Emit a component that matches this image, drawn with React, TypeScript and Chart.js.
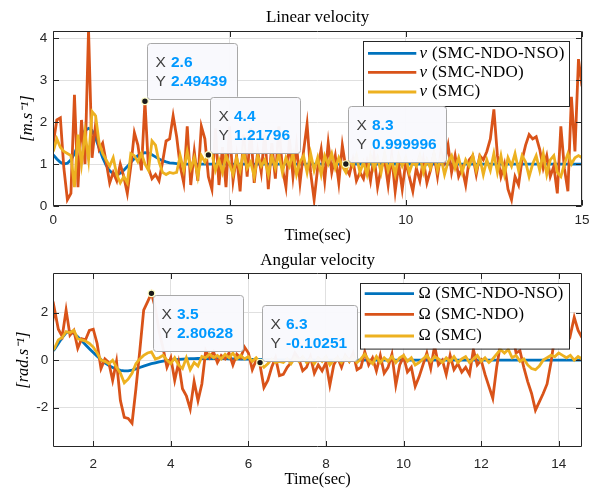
import React, { useEffect, useRef } from "react";
import { Chart, registerables } from "chart.js";

Chart.register(...registerables);

// ---------- data ----------
const DT = 0.1;
const TOP_T0 = 0; // t = 0.0 .. 15.0
const BOT_T0 = 0.9; // t = 0.9 .. 14.6

const V_NSO = [
  1.22, 1.12, 1.04, 1.0, 1.02, 1.1, 1.25, 1.45, 1.65, 1.8,
  1.85, 1.8, 1.62, 1.38, 1.15, 0.97, 0.84, 0.77, 0.75, 0.78,
  0.85, 0.94, 1.04, 1.13, 1.2, 1.25, 1.27, 1.26, 1.22, 1.17,
  1.12, 1.08, 1.05, 1.03, 1.02, 1.01, 1.0, 1.0, 1.0, 1.0,
  1, 1, 1, 1, 1, 1, 1, 1, 1, 1,
  1, 1, 1, 1, 1, 1, 1, 1, 1, 1,
  1, 1, 1, 1, 1, 1, 1, 1, 1, 1,
  1, 1, 1, 1, 1, 1, 1, 1, 1, 1,
  1, 1, 1, 0.999996, 1, 1, 1, 1, 1, 1,
  1, 1, 1, 1, 1, 1, 1, 1, 1, 1,
  1, 1, 1, 1, 1, 1, 1, 1, 1, 1,
  1, 1, 1, 1, 1, 1, 1, 1, 1, 1,
  1, 1, 1, 1, 1, 1, 1, 1, 1, 1,
  1, 1, 1, 1, 1, 1, 1, 1, 1, 1,
  1, 1, 1, 1, 1, 1, 1, 1, 1, 1,
  1,
];

const V_NDO = [
  1.5, 2.05, 2.1, 0.9, 0.15, 0.3, 2.65, 0.45, 2.05, 1.0,
  4.2, 1.15, 1.95, 1.35, 1.5, 1.05, 0.55, 0.8, 0.6, 1.0,
  0.7, 0.3, 0.95, 1.75, 1.45, 0.85, 2.49439, 0.9, 0.65, 0.75,
  0.6, 1.05, 1.55, 1.6, 2.15, 1.65, 0.95, 0.55, 1.9, 0.5,
  1.3, 0.6, 1.9, 1.6, 0.7, 0.4, 1.85, 0.5, 1.4, 0.45,
  1.9, 0.6, 1.2, 0.35, 1.7, 0.7, 1.85, 0.55, 1.3, 0.8,
  1.75, 0.4, 1.5, 0.65, 1.9, 0.9, 0.45, 1.6, 0.7, 1.45,
  0.55, 1.3, 1.95, 0.8, 0.15, 0.9, 1.35, 0.6, 1.5, 0.8,
  1.2, 0.55, 1.45, 0.9, 0.75, 1.1, 0.6, 0.8, 0.65, 1.05,
  0.6, 1.2, 0.45, 0.9, 1.1, 0.5, 1.2, 0.35, 1.0, 0.4,
  1.05, 0.7, 0.35, 0.9, 0.6, 1.1, 0.55, 0.85, 1.25, 0.7,
  1.3, 1.05, 1.45, 0.8, 1.2, 0.7, 0.9, 0.5, 1.1, 1.2,
  0.75, 1.2, 1.1, 1.3, 1.6, 2.3, 1.2, 0.7, 1.0, 0.4,
  0.15, 0.7, 0.5, 1.1, 1.45, 1.7, 1.6, 1.65, 1.35, 0.9,
  1.2, 0.7, 0.95, 0.3, 1.9, 0.9, 0.35, 2.6, 1.3, 3.5,
  2.85,
];

const V_SMC = [
  1.3, 1.6, 1.4, 1.3, 1.25, 1.2, 0.45, 1.7, 1.0, 1.75,
  1.1, 2.25, 2.15, 1.5, 1.25, 1.1, 0.95, 1.15, 0.75, 0.55,
  0.7, 0.55, 1.25, 1.2, 1.05, 1.25, 1.0, 0.85, 1.55, 1.45,
  1.05, 0.8, 0.75, 0.8, 0.78, 0.8, 1.2, 0.85, 1.3, 0.9,
  1.15, 0.7, 1.2, 1.05, 1.21796, 1.25, 0.85, 1.1, 0.8, 1.2,
  1.0, 0.75, 1.15, 0.85, 1.3, 0.9, 1.05, 0.7, 1.2, 0.95,
  1.1, 0.75, 1.2, 0.9, 1.25, 0.8, 1.15, 0.95, 1.25, 0.75,
  1.05, 1.2, 0.8, 1.25, 0.85, 1.15, 0.75, 1.2, 1.0, 1.25,
  0.9, 1.15, 0.95, 0.8, 1.1, 0.95, 1.2, 0.8, 1.05, 0.75,
  1.2, 0.9, 1.15, 0.8, 1.25, 0.85, 1.1, 0.75, 1.2, 0.95,
  1.15, 0.8, 1.05, 0.95, 1.2, 0.8, 1.1, 0.9, 1.25, 0.85,
  1.15, 0.75, 1.05, 1.2, 0.9, 1.15, 0.8, 1.1, 0.95, 1.2,
  0.85, 1.15, 0.75, 1.1, 0.85, 1.25, 0.8, 1.2, 0.75, 1.15,
  0.95, 1.25, 0.85, 1.2, 1.05, 0.7, 1.0, 1.2, 0.85, 1.25,
  0.75, 1.1, 1.2, 0.8, 0.7, 1.0, 1.25, 1.0, 1.15, 1.2,
  1.15,
];

const W_NSO = [
  0.3, 0.45, 0.7, 0.95, 1.15, 1.2, 1.12, 0.98, 0.82, 0.65,
  0.48, 0.32, 0.16, 0.02, -0.11, -0.22, -0.31, -0.38, -0.43, -0.45,
  -0.45, -0.42, -0.37, -0.31, -0.25, -0.2, -0.15, -0.11, -0.07, -0.04,
  -0.02, 0.0, 0.02, 0.03, 0.04, 0.05, 0.06, 0.06, 0.07, 0.07,
  0.07, 0.07, 0.07, 0.06, 0.06, 0.06, 0.05, 0.05, 0.05, 0.04,
  0.04, 0.04, 0.03, 0.03, 0.03, 0.02, 0.02, 0.02, 0.01, 0.01,
  0.01, 0.01, 0, 0, 0, 0, 0, 0, 0, 0,
  0, 0, 0, 0, 0, 0, 0, 0, 0, 0,
  0, 0, 0, 0, 0, 0, 0, 0, 0, 0,
  0, 0, 0, 0, 0, 0, 0, 0, 0, 0,
  0, 0, 0, 0, 0, 0, 0, 0, 0, 0,
  0, 0, 0, 0, 0, 0, 0, 0, 0, 0,
  0, 0, 0, 0, 0, 0, 0, 0, 0, 0,
  0, 0, 0, 0, 0, 0, 0, 0,
];

const W_NDO = [
  1.0, 2.15, 1.3, 1.0, 2.1, 1.05, 1.25, 0.5, 0.9, 0.85,
  1.25, 1.3, 0.7, -0.35, 0.05, -0.1, -0.85, -0.05, -1.7, -2.4,
  -2.45, -2.65, -1.2, 0.4, 2.1, 2.45, 2.80628, 2.2, 1.2, 0.5,
  -0.3, 0.1, -0.85, -0.1, -1.2, -1.5, -2.05, -0.9, -1.7, -1.0,
  0.4, 0.1, 0.35, -0.1, 0.2, 0.05, 0.3, -0.2, 0.25, 0.1,
  0.55, 0.3, -0.4, 0.0, -0.2, -1.15, -0.85, -0.3, 0.1, -0.65,
  -0.6, -0.3, -0.1, 0.3, 0.05, -0.45, -0.3, 0.15, -0.55, -0.2,
  -0.45, -0.1, -1.05, -0.2, 0.1, -0.3, 0.2, -0.05, 0.3, -0.4,
  -0.3, 0.35, -0.2, 0.1, -0.45, 0.2, -0.55, -0.3, 0.25, -1.05,
  -0.2, 0.15, -0.5, -0.3, -1.1, -0.7, -0.2, 0.3, -0.35, 0.6,
  -0.2, 0.0, -0.6, 0.2, -0.4, -0.15, -0.5, -0.3, -0.6, 0.45,
  -0.2, 0.0, -0.6, -1.1, -1.6, -0.3, 0.7, 1.1, 0.6, 1.2,
  0.3, 0.4, -0.3, -0.9, -1.4, -2.1, -1.75, -1.4, -1.0, -0.1,
  1.0, 1.3, 1.75, 1.5, 1.05, 1.8, 1.25, 0.95,
];

const W_SMC = [
  0.3, 0.5, 0.85, 0.95, 1.2, 1.15, 1.25, 0.9, 0.85, 0.8,
  0.7, 0.55, 0.3, 0.0, -0.05, -0.15, 0.0, -0.3, -0.55, -0.95,
  -0.8, -0.55, -0.15, 0.05, 0.2, 0.3, 0.35, 0.05, 0.1, 0.2,
  0.0, -0.15, 0.1, -0.2, -0.35, 0.1, -0.4, -0.1, -0.25, 0.15,
  0.1, 0.25, 0.1, 0.2, 0.05, 0.25, 0.1, 0.3, 0.05, 0.2,
  0.05, 0.15, -0.05, 0.1, -0.10251, -0.3, -0.15, 0.05, -0.1, -0.05,
  -0.1, 0.05, -0.15, 0.1, -0.05, 0.15, -0.1, 0.05, -0.15, 0.1,
  -0.05, 0.15, -0.2, 0.0, 0.1, -0.1, 0.15, -0.05, 0.1, -0.1,
  0.05, 0.25, 0.0, -0.15, 0.15, -0.1, 0.1, -0.05, 0.15, -0.1,
  0.1, 0.2, -0.05, 0.1, -0.2, -0.1, 0.05, 0.2, -0.05, 0.15,
  0.05, -0.1, 0.1, -0.05, 0.15, -0.1, 0.05, 0.15, -0.1, 0.05,
  0.2, -0.05, 0.1, -0.1, 0.05, 0.25, 0.45, 0.3, 0.45, 0.1,
  0.2, -0.05, 0.05, -0.2, -0.35, -0.4, -0.25, 0.0, 0.1, 0.2,
  0.15, 0.3, 0.2, 0.1, 0.2, 0.0, 0.15, 0.05,
];

const SERIES_LABELS = ["(SMC-NDO-NSO)", "(SMC-NDO)", "(SMC)"];
const COLORS = ["#0072BD", "#D95319", "#EDB120"];

const TOP_X_TICKS = [0, 5, 10, 15];
const TOP_Y_TICKS = [0, 1, 2, 3, 4];
const BOT_X_TICKS = [2, 4, 6, 8, 10, 12, 14];
const BOT_Y_TICKS = [-2, 0, 2];

// ---------- styling ----------
const SERIF = '"Liberation Serif", "Times New Roman", serif';
const SANS = '"Liberation Sans", Arial, Helvetica, sans-serif';
const AXIS_COLOR = "#262626";
const GRID_COLOR = "#e0e0e0";
const LINE_W = 2.8;

function points(t0: number, ys: number[]) {
  return ys.map((y, i) => ({ x: Math.round((t0 + i * DT) * 100) / 100, y }));
}

function makeDecor(p: any) {
  return {
    id: "decor_" + p.key,
    afterDatasetsDraw(chart: any) {
      const { ctx, chartArea: a, scales } = chart;
      const l = Math.round(a.left) + 0.5;
      const r = Math.round(a.right) - 0.5;
      const t = Math.round(a.top) + 0.5;
      const b = Math.round(a.bottom) - 0.5;
      ctx.save();
      ctx.strokeStyle = AXIS_COLOR;
      ctx.lineWidth = 1;
      ctx.beginPath();
      ctx.rect(l, t, r - l, b - t);
      const TL = 5.5;
      for (const v of p.xTicks) {
        const px = Math.round(scales.x.getPixelForValue(v)) + 0.5;
        ctx.moveTo(px, b);
        ctx.lineTo(px, b - TL);
        ctx.moveTo(px, t);
        ctx.lineTo(px, t + TL);
      }
      for (const v of p.yTicks) {
        const py = Math.round(scales.y.getPixelForValue(v)) + 0.5;
        ctx.moveTo(l, py);
        ctx.lineTo(l + TL, py);
        ctx.moveTo(r, py);
        ctx.lineTo(r - TL, py);
      }
      ctx.stroke();
      ctx.restore();
    },
    afterDraw(chart: any) {
      const { ctx, chartArea: a, scales } = chart;
      ctx.save();
      // legend
      const lg = p.legend;
      const x0 = Math.round(a.right - lg.rightInset - lg.w);
      const y0 = Math.round(a.top + lg.topInset);
      ctx.fillStyle = "#ffffff";
      ctx.fillRect(x0, y0, lg.w, lg.h);
      ctx.strokeStyle = AXIS_COLOR;
      ctx.lineWidth = 1;
      ctx.strokeRect(x0 + 0.5, y0 + 0.5, lg.w, lg.h);
      chart.data.datasets.forEach((ds: any, i: number) => {
        const y = y0 + lg.rows[i];
        ctx.strokeStyle = ds.borderColor;
        ctx.lineWidth = LINE_W;
        ctx.beginPath();
        ctx.moveTo(x0 + lg.lx0, y);
        ctx.lineTo(x0 + lg.lx1, y);
        ctx.stroke();
        ctx.fillStyle = "#000";
        ctx.textBaseline = "middle";
        ctx.textAlign = "left";
        (ctx as any).letterSpacing = lg.spacing + "px";
        ctx.font = (lg.symItalic ? "italic " : "") + lg.size + "px " + SERIF;
        ctx.fillText(lg.sym, x0 + lg.tx, y);
        const sw = ctx.measureText(lg.sym).width;
        ctx.font = lg.size + "px " + SERIF;
        ctx.fillText(" " + SERIES_LABELS[i], x0 + lg.tx + sw, y);
        (ctx as any).letterSpacing = "0px";
      });
      // data tips
      for (const tip of p.tips) {
        const idx = Math.round((tip.t - tip.t0) / DT);
        const yv = tip.data[idx];
        const px = scales.x.getPixelForValue(tip.t);
        const py = scales.y.getPixelForValue(yv);
        const xs = String(tip.t);
        const ys = String(yv);
        ctx.font = "bold 15.5px " + SANS;
        const vw = Math.max(ctx.measureText(xs).width, ctx.measureText(ys).width);
        const bw = Math.round(24 + vw + 9.5);
        const bh = 56;
        const bx = Math.round(px + 2);
        const by = Math.round(tip.place === "above" ? py - 2 - bh : py + 2);
        ctx.beginPath();
        ctx.roundRect(bx + 0.5, by + 0.5, bw, bh, 3);
        ctx.fillStyle = "rgba(249,249,253,0.97)";
        ctx.fill();
        ctx.strokeStyle = "#a8a8a8";
        ctx.lineWidth = 1;
        ctx.stroke();
        ctx.textBaseline = "middle";
        ctx.textAlign = "left";
        ctx.font = "15.5px " + SANS;
        ctx.fillStyle = "#404040";
        ctx.fillText("X", bx + 8.5, by + 19.5);
        ctx.fillText("Y", bx + 8.5, by + 39);
        ctx.font = "bold 15.5px " + SANS;
        ctx.fillStyle = "#0099ff";
        ctx.fillText(xs, bx + 24, by + 19.5);
        ctx.fillText(ys, bx + 24, by + 39);
        ctx.beginPath();
        ctx.arc(px, py, 3.3, 0, Math.PI * 2);
        ctx.fillStyle = "#1a1a1a";
        ctx.fill();
        ctx.strokeStyle = "#ffffc8";
        ctx.lineWidth = 1.2;
        ctx.stroke();
      }
      ctx.restore();
    },
  };
}

function makeConfig(p: any): any {
  const datasets = p.series.map((s: number[], i: number) => ({
    label: p.sym + " " + SERIES_LABELS[i],
    data: points(p.t0, s),
    borderColor: COLORS[i],
    backgroundColor: COLORS[i],
    borderWidth: LINE_W,
    pointRadius: 0,
    tension: 0,
    fill: false,
    order: 3 - i,
  }));
  return {
    type: "line",
    data: { datasets },
    options: {
      responsive: false,
      animation: false,
      events: [],
      layout: { padding: { left: 0, right: 9, top: 0, bottom: 0 } },
      plugins: {
        legend: { display: false },
        tooltip: { enabled: false },
        title: {
          display: true,
          fullSize: false,
          text: p.title,
          color: "#000",
          font: { family: SERIF, size: 17, weight: "normal", lineHeight: 1.2 },
          padding: { top: p.titlePadT, bottom: p.titlePadB },
        },
      },
      scales: {
        x: {
          type: "linear",
          min: p.xMin,
          max: p.xMax,
          afterBuildTicks: (s: any) => {
            s.ticks = p.xTicks.map((v: number) => ({ value: v }));
          },
          afterFit: (s: any) => {
            s.height = p.xAxisH;
            s.paddingLeft = 0;
            s.paddingRight = 0;
          },
          grid: { color: GRID_COLOR, lineWidth: 1, drawTicks: false },
          border: { display: false },
          ticks: {
            font: { family: SANS, size: 13.5 },
            color: AXIS_COLOR,
            padding: p.xTickPad,
            maxRotation: 0,
            autoSkip: false,
          },
          title: {
            display: true,
            text: "Time(sec)",
            color: "#000",
            font: { family: SERIF, size: 16.5, lineHeight: 1 },
            padding: { top: 0, bottom: p.xTitlePadB },
          },
        },
        y: {
          type: "linear",
          min: p.yMin,
          max: p.yMax,
          afterBuildTicks: (s: any) => {
            s.ticks = p.yTicks.map((v: number) => ({ value: v }));
          },
          afterFit: (s: any) => {
            s.width = 53.3;
            s.paddingTop = 0;
            s.paddingBottom = 0;
          },
          grid: { color: GRID_COLOR, lineWidth: 1, drawTicks: false },
          border: { display: false },
          ticks: {
            font: { family: SANS, size: 13.5 },
            color: AXIS_COLOR,
            padding: p.yTickPad,
            autoSkip: false,
          },
          title: {
            display: true,
            text: p.yTitle,
            color: "#000",
            font: { family: SERIF, size: 16.5, style: "italic", lineHeight: 1 },
            padding: { top: p.yTitlePadT, bottom: 0 },
          },
        },
      },
    },
    plugins: [makeDecor(p)],
  };
}

const TOP_PANEL = {
  key: "top",
  title: "Linear velocity",
  yTitle: "[m.s\u207B\u00B9]",
  sym: "v",
  t0: TOP_T0,
  series: [V_NSO, V_NDO, V_SMC],
  xMin: 0,
  xMax: 15,
  yMin: 0,
  yMax: 4.17,
  xTicks: TOP_X_TICKS,
  yTicks: TOP_Y_TICKS,
  titlePadT: 7.3,
  titlePadB: 3.3,
  xAxisH: 39,
  xTickPad: 6,
  xTitlePadB: 1.25,
  yTickPad: 6,
  yTitlePadT: 19.25,
  legend: { rightInset: 13.3, topInset: 10, w: 206, h: 65, rows: [12.3, 31.3, 51], lx0: 5, lx1: 53.3, tx: 56.6, size: 17, spacing: 0.25, sym: "v", symItalic: true },
  tips: [
    { data: V_NDO, t0: TOP_T0, t: 2.6, place: "above" },
    { data: V_SMC, t0: TOP_T0, t: 4.4, place: "above" },
    { data: V_NSO, t0: TOP_T0, t: 8.3, place: "above" },
  ],
};

const BOT_PANEL = {
  key: "bot",
  title: "Angular velocity",
  yTitle: "[rad.s\u207B\u00B9]",
  sym: "\u03A9",
  t0: BOT_T0,
  series: [W_NSO, W_NDO, W_SMC],
  xMin: 0.97,
  xMax: 14.6,
  yMin: -3.66,
  yMax: 3.66,
  xTicks: BOT_X_TICKS,
  yTicks: BOT_Y_TICKS,
  titlePadT: 5.0,
  titlePadB: 2.6,
  xAxisH: 43.7,
  xTickPad: 8.5,
  xTitlePadB: 2.75,
  yTickPad: 5,
  yTitlePadT: 15,
  legend: { rightInset: 13.3, topInset: 9.7, w: 209, h: 65.6, rows: [10.6, 31.3, 53], lx0: 4.7, lx1: 54, tx: 58.4, size: 16.5, spacing: 0.2, sym: "\u03A9", symItalic: false },
  tips: [
    { data: W_NDO, t0: BOT_T0, t: 3.5, place: "below" },
    { data: W_SMC, t0: BOT_T0, t: 6.3, place: "above" },
  ],
};

export default function App() {
  const topRef = useRef<HTMLCanvasElement | null>(null);
  const botRef = useRef<HTMLCanvasElement | null>(null);

  useEffect(() => {
    const c1 = new Chart(topRef.current as HTMLCanvasElement, makeConfig(TOP_PANEL));
    const c2 = new Chart(botRef.current as HTMLCanvasElement, makeConfig(BOT_PANEL));
    return () => {
      c1.destroy();
      c2.destroy();
    };
  }, []);

  return (
    <div style={{ position: "absolute", left: 0, top: 0, width: 591, height: 491, background: "#fff" }}>
      <canvas ref={topRef} width={591} height={245} style={{ position: "absolute", left: 0, top: 0, width: 591, height: 245 }} />
      <canvas ref={botRef} width={591} height={246} style={{ position: "absolute", left: 0, top: 245, width: 591, height: 246 }} />
    </div>
  );
}
